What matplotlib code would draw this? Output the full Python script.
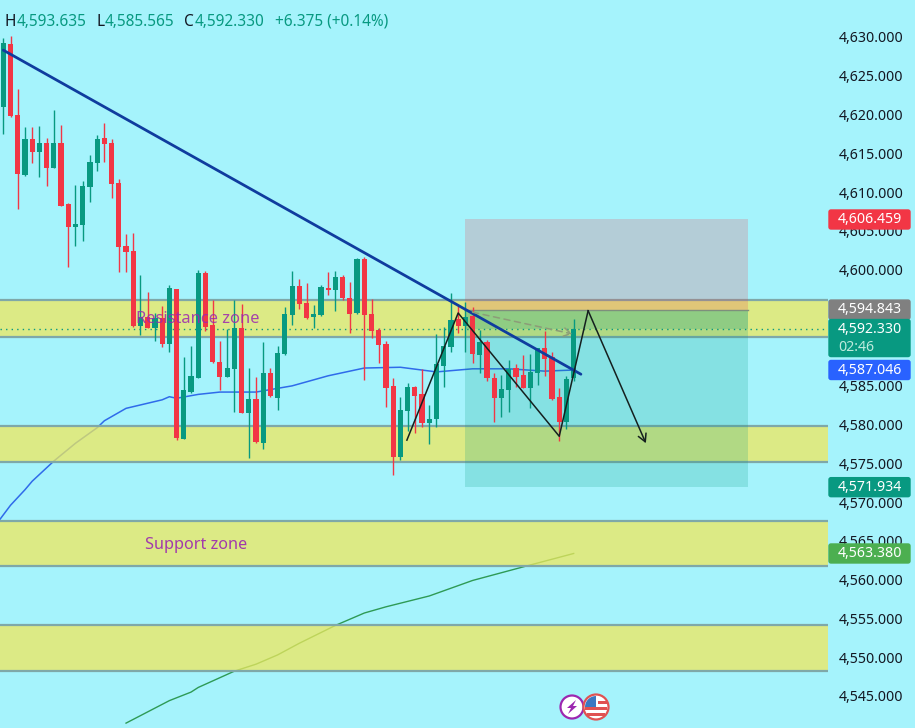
"""Gold 15m style candlestick chart with zones and a short position box."""

import matplotlib

matplotlib.use("Agg")

import matplotlib.pyplot as plt
import numpy as np
from matplotlib.patches import Circle, FancyBboxPatch, Polygon, Rectangle, Wedge

FONT = "Noto Sans"
BG = "#A5F3FC"
GREEN = "#089981"
RED = "#F23645"
BLUE = "#2962FF"
ZONE = "#EFE85D"
ZONE_EDGE = "#7FA8A8"
TEXT = "#131722"
PURPLE = "#9C27B0"

opens = [
    4621.0, 4629.1, 4619.9, 4612.2, 4616.8, 4615.2, 4616.3, 4613.1, 4616.3, 4608.5,
    4605.5, 4605.7, 4610.6, 4613.7, 4617.0, 4616.3, 4611.2, 4603.0, 4602.4, 4592.7,
    4593.9, 4592.5, 4593.8, 4590.4, 4597.5, 4578.1, 4584.2, 4586.0, 4599.6, 4592.8,
    4588.1, 4586.1, 4587.2, 4592.5, 4581.5, 4583.3, 4577.6, 4586.7, 4583.4, 4589.1,
    4594.1, 4597.9, 4595.7, 4593.9, 4594.1, 4597.6, 4597.4, 4599.0, 4596.3, 4594.4,
    4601.4, 4594.3, 4592.2, 4590.4, 4585.0, 4575.8, 4581.8, 4584.8, 4583.9, 4580.2,
    4580.7, 4587.6, 4590.0, 4593.6, 4592.7, 4594.0, 4589.0, 4590.7, 4586.0, 4583.4,
    4584.5, 4587.3, 4586.4, 4584.7, 4586.7, 4589.9, 4588.7, 4583.6, 4580.3, 4585.955,
]
highs = [
    4629.9, 4630.1, 4623.3, 4618.4, 4618.4, 4618.5, 4617.0, 4620.6, 4618.6, 4608.6,
    4610.9, 4611.4, 4614.8, 4617.4, 4618.9, 4616.8, 4611.7, 4604.6, 4604.7, 4599.3,
    4597.1, 4594.4, 4595.3, 4598.0, 4597.5, 4588.7, 4590.1, 4599.9, 4599.8, 4596.1,
    4590.8, 4592.3, 4596.1, 4595.6, 4587.3, 4586.1, 4590.7, 4587.3, 4590.1, 4595.2,
    4599.8, 4598.8, 4598.3, 4595.4, 4598.0, 4599.7, 4599.8, 4599.3, 4598.4, 4601.5,
    4601.6, 4596.2, 4592.5, 4590.8, 4586.0, 4583.6, 4585.4, 4585.0, 4587.2, 4582.5,
    4591.7, 4592.6, 4597.0, 4595.4, 4595.8, 4595.2, 4592.2, 4590.9, 4586.7, 4586.4,
    4588.3, 4587.8, 4589.0, 4589.1, 4589.9, 4592.1, 4589.4, 4584.7, 4586.3, 4593.635,
]
lows = [
    4617.5, 4619.7, 4607.8, 4612.1, 4613.7, 4611.9, 4610.8, 4613.1, 4608.2, 4600.3,
    4603.0, 4603.7, 4608.7, 4612.7, 4613.9, 4609.2, 4599.7, 4599.7, 4592.6, 4591.6,
    4592.5, 4590.8, 4590.0, 4589.4, 4578.0, 4578.1, 4584.1, 4586.0, 4592.1, 4587.9,
    4584.5, 4586.1, 4581.6, 4581.5, 4575.7, 4577.6, 4576.9, 4583.6, 4581.9, 4589.0,
    4592.8, 4594.9, 4593.6, 4592.5, 4594.0, 4596.7, 4594.7, 4596.1, 4591.8, 4594.3,
    4585.8, 4591.2, 4587.9, 4582.3, 4573.5, 4575.4, 4579.2, 4578.9, 4579.7, 4577.5,
    4579.7, 4584.8, 4589.4, 4591.8, 4589.4, 4587.9, 4586.7, 4585.6, 4580.3, 4581.0,
    4581.6, 4584.8, 4584.7, 4582.1, 4585.1, 4586.3, 4583.2, 4577.9, 4579.4, 4585.565,
]
closes = [
    4629.2, 4619.8, 4612.3, 4616.8, 4615.2, 4616.3, 4613.1, 4616.3, 4608.2, 4605.5,
    4605.9, 4610.8, 4613.9, 4616.8, 4616.2, 4611.0, 4602.9, 4602.3, 4592.7, 4593.9,
    4592.5, 4593.8, 4590.4, 4597.6, 4578.3, 4584.5, 4586.3, 4599.6, 4592.6, 4588.1,
    4586.1, 4587.3, 4592.5, 4581.5, 4583.3, 4577.8, 4586.7, 4583.7, 4589.2, 4594.3,
    4597.9, 4595.6, 4593.8, 4594.3, 4597.7, 4597.4, 4599.0, 4596.3, 4594.3, 4601.4,
    4594.1, 4592.1, 4590.3, 4584.7, 4575.8, 4581.9, 4584.8, 4583.7, 4580.2, 4580.7,
    4587.8, 4590.1, 4593.5, 4592.7, 4593.9, 4589.1, 4590.7, 4586.0, 4583.4, 4584.6,
    4587.2, 4586.1, 4584.7, 4586.8, 4589.9, 4588.5, 4583.3, 4580.3, 4585.9, 4592.33,
]

blue_ma_bars = [-0.45, 1, 3, 4, 7, 10, 13, 14, 17, 22, 23, 24, 27, 30, 35, 40, 45, 50, 55, 60, 65, 70, 75, 79]
blue_ma = [
    4567.8, 4569.6, 4571.6, 4572.7, 4575.3, 4577.6, 4579.6, 4580.5, 4582.1, 4583.2,
    4583.6, 4583.4, 4583.9, 4584.2, 4584.2, 4585.0, 4586.3, 4587.3, 4587.4, 4586.8,
    4587.2, 4587.2, 4586.9, 4587.046,
]
green_ma_bars = [17, 23, 26, 27, 32, 35, 38, 41, 46, 50, 53, 59, 65, 69, 73, 79]
green_ma = [
    4541.5, 4544.4, 4545.5, 4546.1, 4548.2, 4549.1, 4550.3, 4551.8, 4554.1, 4555.7,
    4556.5, 4557.9, 4559.9, 4560.9, 4561.9, 4563.38,
]

zones = [(4596.1, 4591.3), (4579.8, 4575.2), (4567.6, 4561.8), (4554.1, 4548.2)]

trend_bars = [0, 80]
trend_prices = [4628.3, 4586.5]
zigzag_bars = [55.9, 63, 77, 81, 89.0]
zigzag_prices = [4578.0, 4594.4, 4578.5, 4594.7, 4577.6]
dashed_bars = [65, 78.8]
dashed_prices = [4594.5, 4591.7]

box_bars = (64, 103.1)
stop_price = 4606.459
entry_price = 4594.843
target_price = 4571.934
last_price = 4592.33

# 4,590 and 4,595 sit fully behind the price tags
y_ticks = [4545, 4550, 4555, 4560, 4565, 4570, 4575, 4580, 4585, 4600, 4605, 4610, 4615, 4620, 4625, 4630]

WIDTH, HEIGHT = 915, 728
PANE_WIDTH = 828

fig = plt.figure(figsize=(WIDTH / 100, HEIGHT / 100), dpi=100, facecolor=BG)
ax = fig.add_axes([0, 0, PANE_WIDTH / WIDTH, 1], facecolor=BG)
ax.set_xlim(-0.457, (PANE_WIDTH - 3.3) / 7.22)
ax.set_ylim(4540.87, 4634.77)

for spine in ax.spines.values():
    spine.set_visible(False)
ax.set_xticks([])
ax.yaxis.tick_right()
ax.set_yticks(y_ticks)
ax.set_yticklabels([f"{tick:,.3f}" for tick in y_ticks], fontsize=10.2, color=TEXT, family=FONT)
ax.tick_params(axis="y", length=0, pad=8)

# moving averages sit under the zones, they show through the fill
ax.plot(blue_ma_bars, blue_ma, color="#2F6BEA", lw=1.1, zorder=0.8)
ax.plot(green_ma_bars, green_ma, color="#2E9A55", lw=1.0, zorder=0.8)

for top, bottom in zones:
    ax.axhspan(bottom, top, facecolor=ZONE, edgecolor="none", alpha=0.75, zorder=1)
    ax.axhline(top, color=ZONE_EDGE, lw=1.6, zorder=1.2)
    ax.axhline(bottom, color=ZONE_EDGE, lw=1.6, zorder=1.2)

box_width = box_bars[1] - box_bars[0]
ax.add_patch(Rectangle((box_bars[0], entry_price), box_width, stop_price - entry_price,
                       facecolor=RED, alpha=0.2, lw=0, zorder=2))
ax.add_patch(Rectangle((box_bars[0], target_price), box_width, entry_price - target_price,
                       facecolor=GREEN, alpha=0.2, lw=0, zorder=2))
ax.add_patch(Rectangle((box_bars[0], last_price), box_width, entry_price - last_price,
                       facecolor=GREEN, alpha=0.2, lw=0, zorder=2))
ax.plot(box_bars, [entry_price, entry_price], color="#7E8F7C", lw=1.0, zorder=2.2)

ax.axhline(last_price, color=GREEN, lw=1, ls=(0, (1, 3)), zorder=2.5)

idx = np.arange(len(opens))
opens_arr = np.array(opens)
closes_arr = np.array(closes)
colors = [GREEN if c >= o else RED for o, c in zip(opens, closes)]
ax.vlines(idx, lows, highs, colors=colors, lw=1.0, zorder=4)
ax.bar(idx, np.abs(closes_arr - opens_arr), bottom=np.minimum(opens_arr, closes_arr),
       width=0.72, color=colors, lw=0, zorder=5)

ax.plot(trend_bars, trend_prices, color="#0F3C9E", lw=2.0, zorder=6, solid_capstyle="round")
ax.plot(zigzag_bars[:-1], zigzag_prices[:-1], color="#15201F", lw=1.1, zorder=6)
ax.annotate("", xy=(zigzag_bars[-1], zigzag_prices[-1]), xytext=(zigzag_bars[-2], zigzag_prices[-2]),
            arrowprops=dict(arrowstyle="->,head_length=0.55,head_width=0.3", color="#15201F", lw=1.1,
                            shrinkA=0, shrinkB=0), zorder=6)
ax.annotate("", xy=(dashed_bars[1], dashed_prices[1]), xytext=(dashed_bars[0], dashed_prices[0]),
            arrowprops=dict(arrowstyle="->,head_length=0.5,head_width=0.3", color="#8C9C78", lw=1.1,
                            ls=(0, (4, 3)), shrinkA=0, shrinkB=0), zorder=6)

ax.text(26.9, 4593.6, "Resistance zone", color=PURPLE, alpha=0.85, fontsize=11.9, family=FONT,
        ha="center", va="center", zorder=7)
ax.text(26.7, 4564.5, "Support zone", color=PURPLE, alpha=0.9, fontsize=11.7, family=FONT,
        ha="center", va="center", zorder=7)

# overlay in pixels for the price tags, legend header and event icons
overlay = fig.add_axes([0, 0, 1, 1], facecolor="none")
overlay.set_xlim(0, WIDTH)
overlay.set_ylim(HEIGHT, 0)
overlay.axis("off")


def price_to_px(price):
    low, high = ax.get_ylim()
    return (high - price) / (high - low) * HEIGHT


def price_tag(price, color, sub=None):
    center = price_to_px(price)
    height = 21 if sub is None else 39
    top = center - 10.5
    overlay.add_patch(FancyBboxPatch((829, top + 1), 81, height - 2,
                                     boxstyle="round,pad=0,rounding_size=2", facecolor=color,
                                     edgecolor=color, lw=1))
    overlay.text(870, center, f"{price:,.3f}", color="white", fontsize=10.2, family=FONT,
                 ha="center", va="center")
    if sub:
        overlay.text(838, center + 18, sub, color="#BDEBDD", fontsize=10.2, family=FONT,
                     ha="left", va="center")


price_tag(stop_price, RED)
price_tag(entry_price, "#808080")
price_tag(last_price, GREEN, sub="02:46")
price_tag(blue_ma[-1], BLUE)
price_tag(target_price, GREEN)
price_tag(green_ma[-1], "#4CAF50")

header = [
    (5, "H", TEXT), (17, "4,593.635", GREEN), (96, "L", TEXT), (105, "4,585.565", GREEN),
    (184, "C", TEXT), (195, "4,592.330", GREEN), (275, "+6.375 (+0.14%)", GREEN),
]
for x_px, label, color in header:
    overlay.text(x_px, 21.5, label, color=color, fontsize=11.1, family=FONT, ha="left", va="center")

overlay.add_patch(Circle((572, 707), 11.5, facecolor="white", edgecolor="#9C27B0", lw=1.6, zorder=2))
overlay.add_patch(Polygon([(576, 700), (567, 708), (571, 708), (568, 714), (577, 706), (573, 706)],
                          facecolor="#9C27B0", edgecolor="none", zorder=3))
overlay.add_patch(Circle((596, 707), 12.5, facecolor="white", edgecolor="#E05252", lw=1.6, zorder=4))
overlay.add_patch(Rectangle((585, 707), 22, 3, facecolor="#E05252", lw=0, zorder=5))
overlay.add_patch(Rectangle((587, 713), 18, 3, facecolor="#E05252", lw=0, zorder=5))
overlay.add_patch(Rectangle((598, 701), 9, 3, facecolor="#E05252", lw=0, zorder=5))
overlay.add_patch(Wedge((596, 707), 11, 180, 270, facecolor="#3B78C2", lw=0, zorder=6))

fig.savefig("out.png", dpi=100, facecolor=BG)
